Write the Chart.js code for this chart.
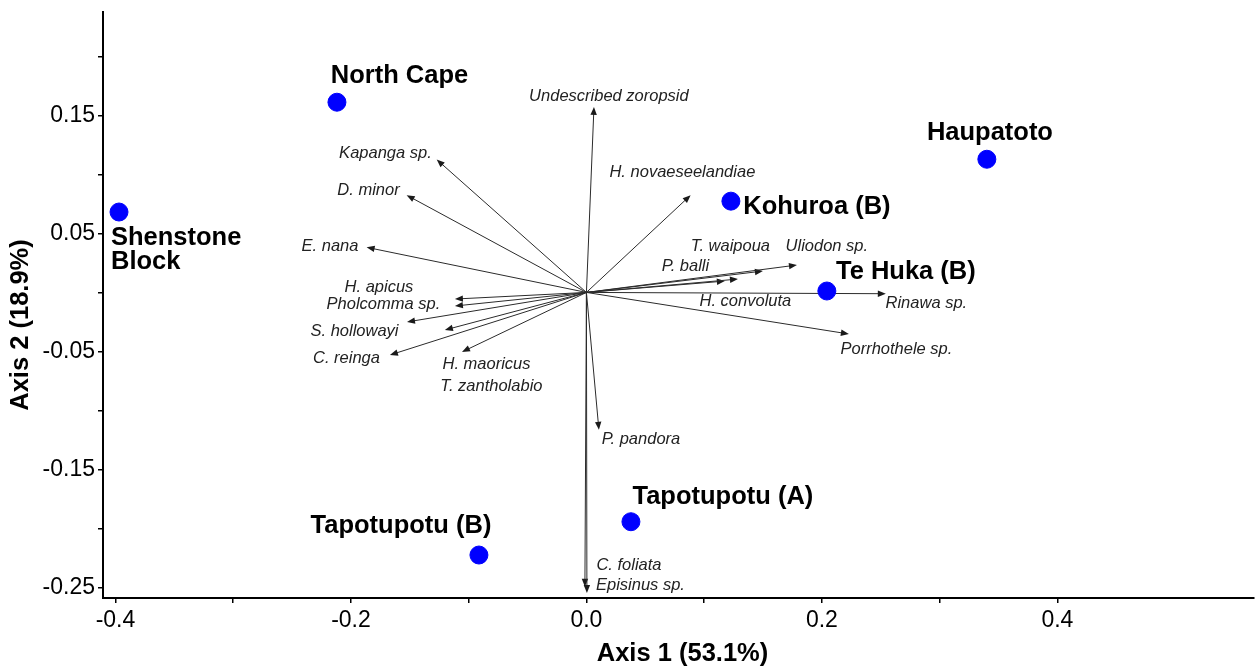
<!DOCTYPE html>
<html>
<head>
<meta charset="utf-8">
<title>Ordination biplot</title>
<script src="https://cdn.jsdelivr.net/npm/chart.js@4.4.1/dist/chart.umd.min.js"></script>
<style>
  html, body { margin: 0; padding: 0; background: #fff; }
</style>
</head>
<body>
<canvas id="ordination" width="1258" height="669"></canvas>
<script>
// site scores (axis 1, axis 2)
const siteNames = ["North Cape", "Shenstone\nBlock", "Haupatoto", "Kohuroa (B)", "Te Huka (B)", "Tapotupotu (A)", "Tapotupotu (B)"];
const siteX = [-0.2119, -0.397, 0.3401, 0.1227, 0.2042, 0.0378, -0.0913];
const siteY = [0.1611, 0.0681, 0.1128, 0.0773, 0.0012, -0.1942, -0.2224];
// where each site name sits, in axis units
const siteLabelX = [-0.1588, -0.4038, 0.3427, 0.1958, 0.2713, 0.1159, -0.1575];
const siteLabelY = [0.1831, 0.0359, 0.1353, 0.0722, 0.0173, -0.1735, -0.1976];
const siteLabelAlign = ["center", "left", "center", "center", "center", "center", "center"];

// species vectors
const speciesNames = [
    "Undescribed zoropsid", "Kapanga sp.", "D. minor", "E. nana", "H. apicus",
    "Pholcomma sp.", "S. hollowayi", "T. zantholabio", "C. reinga", "H. maoricus",
    "P. pandora", "C. foliata", "Episinus sp.", "H. novaeseelandiae", "T. waipoua",
    "Uliodon sp.", "P. balli", "H. convoluta", "Rinawa sp.", "Porrhothele sp."
];
const speciesX = [0.0064, -0.1272, -0.1527, -0.1867, -0.1117, -0.1117, -0.1524, -0.1202, -0.1669, -0.1057,
                  0.0106, -0.0013, 0.0004, 0.0885, 0.1499, 0.1788, 0.1176, 0.1287, 0.2543, 0.2229];
const speciesY = [0.1571, 0.1126, 0.0824, 0.0382, -0.0056, -0.0115, -0.025, -0.0318, -0.053, -0.0504,
                  -0.1164, -0.2492, -0.2546, 0.0824, 0.0181, 0.0232, 0.0096, 0.0113, -0.0011, -0.0352];
const speciesLabelX = [0.0191, -0.1707, -0.1851, -0.2178, -0.1762, -0.1724, -0.197, -0.0807, -0.2038, -0.0849,
                       0.0463, 0.0361, 0.0459, 0.0815, 0.1223, 0.2042, 0.0841, 0.135, 0.2887, 0.2633];
const speciesLabelY = [0.1664, 0.1179, 0.0866, 0.0393, 0.0046, -0.0098, -0.0327, -0.0792, -0.0563, -0.0606,
                       -0.1248, -0.2313, -0.2482, 0.1013, 0.0393, 0.0393, 0.0223, -0.0073, -0.009, -0.0479];

const xTickValues = [-0.4, -0.3, -0.2, -0.1, 0.0, 0.1, 0.2, 0.3, 0.4];
const xTickLabels = ["-0.4", "", "-0.2", "", "0.0", "", "0.2", "", "0.4"];
const yTickValues = [-0.25, -0.2, -0.15, -0.1, -0.05, 0.0, 0.05, 0.1, 0.15, 0.2];
const yTickLabels = ["-0.25", "", "-0.15", "", "-0.05", "", "0.05", "", "0.15", ""];

const FONT = "'Liberation Sans', Arial, sans-serif";

function drawArrow(ctx, x0, y0, x1, y1) {
    const ang = Math.atan2(y1 - y0, x1 - x0);
    const c = Math.cos(ang), s = Math.sin(ang);
    const len = 8, half = 3.2;
    ctx.beginPath();
    ctx.moveTo(x0, y0);
    ctx.lineTo(x1 - c * len * 0.7, y1 - s * len * 0.7);
    ctx.stroke();
    ctx.beginPath();
    ctx.moveTo(x1, y1);
    ctx.lineTo(x1 - c * len + s * half, y1 - s * len - c * half);
    ctx.lineTo(x1 - c * len - s * half, y1 - s * len + c * half);
    ctx.closePath();
    ctx.fill();
}

const biplotLayer = {
    id: "biplotLayer",
    beforeDatasetsDraw(chart) {
        const ctx = chart.ctx;
        const xs = chart.scales.x, ys = chart.scales.y;
        const ox = xs.getPixelForValue(0), oy = ys.getPixelForValue(0);
        ctx.save();
        ctx.strokeStyle = "#2b2b2b";
        ctx.fillStyle = "#1a1a1a";
        ctx.lineWidth = 1;
        for (let i = 0; i < speciesNames.length; i++) {
            drawArrow(ctx, ox, oy, xs.getPixelForValue(speciesX[i]), ys.getPixelForValue(speciesY[i]));
        }
        ctx.restore();
    },
    afterDatasetsDraw(chart) {
        const ctx = chart.ctx;
        const xs = chart.scales.x, ys = chart.scales.y;
        ctx.save();
        // species names
        ctx.font = "italic 16.5px " + FONT;
        ctx.fillStyle = "#222";
        ctx.textAlign = "center";
        ctx.textBaseline = "middle";
        for (let i = 0; i < speciesNames.length; i++) {
            ctx.fillText(speciesNames[i], xs.getPixelForValue(speciesLabelX[i]), ys.getPixelForValue(speciesLabelY[i]));
        }
        // site names
        ctx.font = "bold 25.5px " + FONT;
        ctx.fillStyle = "#000";
        for (let i = 0; i < siteNames.length; i++) {
            const lines = siteNames[i].split("\n");
            const px = xs.getPixelForValue(siteLabelX[i]);
            const py = ys.getPixelForValue(siteLabelY[i]);
            ctx.textAlign = siteLabelAlign[i];
            lines.forEach((ln, k) => {
                ctx.fillText(ln, px, py + (k - (lines.length - 1) / 2) * 24);
            });
        }
        ctx.restore();
    },
    afterDraw(chart) {
        const ctx = chart.ctx;
        const area = chart.chartArea;
        ctx.save();
        ctx.font = "bold 25.5px " + FONT;
        ctx.fillStyle = "#000";
        ctx.textAlign = "center";
        ctx.textBaseline = "middle";
        ctx.fillText("Axis 1 (53.1%)", (area.left + area.right) / 2 + 4, area.bottom + 56);
        ctx.translate(21, (area.top + area.bottom) / 2 + 20);
        ctx.rotate(-Math.PI / 2);
        ctx.fillText("Axis 2 (18.9%)", 0, 0);
        ctx.restore();
    }
};

new Chart(document.getElementById("ordination"), {
    type: "scatter",
    data: {
        datasets: [{
            label: "Sites",
            data: siteX.map((x, i) => ({ x: x, y: siteY[i] })),
            backgroundColor: "#0000ff",
            borderColor: "#0000ff",
            pointRadius: 9,
            pointHoverRadius: 9
        }]
    },
    options: {
        responsive: false,
        animation: false,
        layout: { autoPadding: false, padding: { top: 12, right: 4, left: 0, bottom: 0 } },
        plugins: { legend: { display: false }, tooltip: { enabled: false } },
        scales: {
            x: {
                type: "linear",
                min: -0.4106,
                max: 0.567,
                afterBuildTicks: s => { s.ticks = xTickValues.map(v => ({ value: v })); },
                afterFit: s => { s.height = 71; s.paddingLeft = 0; s.paddingRight = 0; },
                ticks: {
                    callback: (v, i) => xTickLabels[i],
                    color: "#000",
                    font: { size: 23, family: FONT },
                    padding: 4,
                    maxRotation: 0,
                    autoSkip: false
                },
                grid: { drawOnChartArea: false, drawTicks: true, tickLength: 5, color: "#000", lineWidth: 1.5 },
                border: { color: "#000", width: 2 }
            },
            y: {
                type: "linear",
                min: -0.2588,
                max: 0.2375,
                afterBuildTicks: s => { s.ticks = yTickValues.map(v => ({ value: v })); },
                afterFit: s => { s.width = 103; s.paddingTop = 0; s.paddingBottom = 0; },
                ticks: {
                    callback: (v, i) => yTickLabels[i],
                    color: "#000",
                    font: { size: 23, family: FONT },
                    padding: 3,
                    autoSkip: false
                },
                grid: { drawOnChartArea: false, drawTicks: true, tickLength: 5, color: "#000", lineWidth: 1.5 },
                border: { color: "#000", width: 2 }
            }
        }
    },
    plugins: [biplotLayer]
});
</script>
</body>
</html>
